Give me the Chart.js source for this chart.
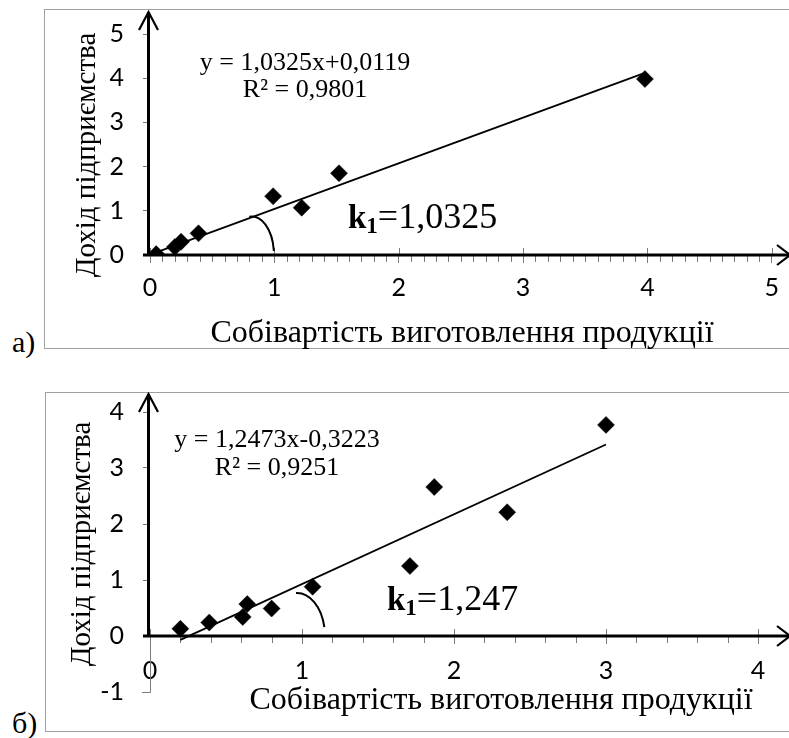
<!DOCTYPE html>
<html lang="uk">
<head>
<meta charset="utf-8">
<title>Дохід підприємства / Собівартість</title>
<script src="https://cdn.jsdelivr.net/npm/chart.js@4.4.1/dist/chart.umd.min.js"></script>
<style>
    html, body { margin: 0; padding: 0; background: #fff; }
    body { width: 789px; height: 738px; overflow: hidden; position: relative; font-family: "Liberation Serif", serif; }
    .frame { position: absolute; border: 1.5px solid #a0a0a0; box-sizing: border-box; }
    .tag { position: absolute; left: 12px; font-size: 30px; line-height: 30px; }
    canvas { position: absolute; left: 0; }
</style>
</head>
<body>
<div class="frame" style="left:44px; top:9px; width:800px; height:340px;"></div>
<div class="frame" style="left:45px; top:392px; width:800px; height:340px;"></div>
<div class="tag" style="top:327px;">а)</div>
<div class="tag" style="top:708px;">б)</div>
<canvas id="chartA" width="789" height="362" style="top:0;"></canvas>
<canvas id="chartB" width="789" height="368" style="top:370px;"></canvas>

<script>
// ---- data ----
// а)
const costA = [0.05, 0.2, 0.25, 0.39, 0.99, 1.22, 1.52, 3.98];
const incomeA = [0.02, 0.18, 0.30, 0.49, 1.33, 1.07, 1.85, 3.98];
const trendAX = [0.05, 3.98];
const trendAY = [0.06, 4.12];
const xTicksA = [0, 1, 2, 3, 4, 5];
const yTicksA = [0, 1, 2, 3, 4, 5];

// б)
const costB = [0.2, 0.39, 0.61, 0.64, 0.80, 1.07, 1.71, 1.87, 2.35, 3.0];
const incomeB = [0.13, 0.24, 0.34, 0.57, 0.49, 0.88, 1.25, 2.66, 2.21, 3.77];
const trendBX = [0.2, 3.0];
const trendBY = [-0.07, 3.42];
const xTicksB = [0, 1, 2, 3, 4];
const yTicksB = [-1, 0, 1, 2, 3, 4];

const xTitle = 'Собівартість виготовлення продукції';
const yTitle = 'Дохід підприємства';
const eqA = ['y = 1,0325x+0,0119', 'R² = 0,9801'];
const eqB = ['y = 1,2473x-0,3223', 'R² = 0,9251'];
const kA = '=1,0325';
const kB = '=1,247';

const SERIF = '"Liberation Serif", "Times New Roman", serif';
const TICK_FONT = { family: 'Lato, "Open Sans", sans-serif', size: 25 };

// ---- decorations: black arrow axes, minor ticks, arc, texts ----
const decor = {
    id: 'decor',
    beforeDatasetsDraw(chart, args, o) {
        const ctx = chart.ctx;
        const xs = chart.scales.x, ys = chart.scales.y;
        const y0 = ys.getPixelForValue(0);
        const x0 = xs.getPixelForValue(0);
        ctx.save();

        // minor ticks (below) and upper half of major ticks
        ctx.strokeStyle = '#7a7a7a';
        ctx.lineWidth = 1;
        ctx.beginPath();
        const n = Math.round(xs.max / o.minor);
        for (let i = 0; i <= n; i++) {
            const px = Math.round(xs.getPixelForValue(i * o.minor)) + 0.5;
            if (i % Math.round(1 / o.minor) === 0) {
                ctx.moveTo(px, y0 - 7); ctx.lineTo(px, y0);
            } else {
                ctx.moveTo(px, y0); ctx.lineTo(px, y0 + 7);
            }
        }
        // grey part of value axis below zero
        if (ys.min < 0) {
            const yb = ys.getPixelForValue(ys.min);
            ctx.moveTo(x0 + 0.5, y0); ctx.lineTo(x0 + 0.5, yb + 0.5);
            ctx.moveTo(x0 - 8, yb + 0.5); ctx.lineTo(x0 + 0.5, yb + 0.5);
        }
        ctx.stroke();

        // black axes with open arrow heads
        const ax = x0 - 1.5;
        ctx.strokeStyle = '#000';
        ctx.lineWidth = 3;
        ctx.beginPath();
        ctx.moveTo(x0 - 7, y0); ctx.lineTo(o.xTip, y0);
        ctx.moveTo(ax, y0 + 1.5); ctx.lineTo(ax, o.yTip);
        ctx.stroke();
        ctx.lineWidth = 2.2;
        ctx.beginPath();
        ctx.moveTo(o.xTip - 13, y0 - 10); ctx.lineTo(o.xTip, y0); ctx.lineTo(o.xTip - 13, y0 + 10);
        ctx.moveTo(ax - 9.5, o.yTip + 18); ctx.lineTo(ax, o.yTip); ctx.lineTo(ax + 9.5, o.yTip + 18);
        ctx.stroke();
        ctx.restore();
    },
    afterDatasetsDraw(chart, args, o) {
        const ctx = chart.ctx;
        const xs = chart.scales.x, ys = chart.scales.y;
        ctx.save();

        // angle arc
        const cx = xs.getPixelForValue(o.arc.x);
        const cy = ys.getPixelForValue(0);
        const rx = xs.getPixelForValue(o.arc.x + o.arc.rx) - cx;
        const ry = cy - ys.getPixelForValue(o.arc.ry);
        ctx.strokeStyle = '#000';
        ctx.lineWidth = 2;
        ctx.beginPath();
        ctx.ellipse(cx, cy, rx, ry, 0, o.arc.from * Math.PI / 180, o.arc.to * Math.PI / 180);
        ctx.stroke();

        ctx.fillStyle = '#000';
        ctx.textBaseline = 'alphabetic';

        // trend equation
        ctx.textAlign = 'center';
        ctx.font = '26px ' + SERIF;
        ctx.fillText(o.eq[0], o.eqX, o.eqY[0]);
        ctx.fillText(o.eq[1], o.eqX, o.eqY[1]);

        // k1 = ...
        ctx.textAlign = 'left';
        let kx = o.k.x;
        ctx.font = 'bold 33px ' + SERIF;
        ctx.fillText('k', kx, o.k.y);
        kx += ctx.measureText('k').width;
        ctx.font = 'bold 23px ' + SERIF;
        ctx.fillText('1', kx, o.k.y + 5);
        kx += ctx.measureText('1').width;
        ctx.font = '36px ' + SERIF;
        ctx.fillText(o.k.text, kx, o.k.y);

        // axis titles
        ctx.textAlign = 'center';
        ctx.font = '32px ' + SERIF;
        ctx.fillText(xTitle, o.xt.x, o.xt.y);
        ctx.translate(o.yt.x, o.yt.y);
        ctx.rotate(-Math.PI / 2);
        ctx.textBaseline = 'middle';
        ctx.font = '29px ' + SERIF;
        ctx.fillText(yTitle, 0, 0);
        ctx.restore();
    }
};

function makeChart(id, cfg) {
    const points = cfg.xs.map((x, i) => ({ x: x, y: cfg.ys[i] }));
    const trend = cfg.tx.map((x, i) => ({ x: x, y: cfg.ty[i] }));
    return new Chart(document.getElementById(id), {
        type: 'scatter',
        data: {
            datasets: [{
                data: points,
                pointStyle: 'rectRot',
                pointRadius: 8.5,
                backgroundColor: '#000',
                borderColor: '#000',
                borderWidth: 0.5
            }, {
                type: 'line',
                data: trend,
                showLine: true,
                pointRadius: 0,
                borderColor: '#000',
                borderWidth: 1.8,
                fill: false
            }]
        },
        options: {
            responsive: false,
            animation: false,
            events: [],
            layout: { padding: cfg.pad },
            plugins: {
                legend: { display: false },
                tooltip: { enabled: false },
                decor: cfg.decor
            },
            scales: {
                x: {
                    type: 'linear',
                    position: { y: 0 },
                    min: cfg.xTicks[0],
                    max: cfg.xTicks[cfg.xTicks.length - 1],
                    afterBuildTicks: s => { s.ticks = cfg.xTicks.map(v => ({ value: v })); },
                    ticks: { font: TICK_FONT, color: '#000', padding: cfg.xPad, maxRotation: 0 },
                    grid: { drawOnChartArea: false, tickLength: 8, tickColor: '#7a7a7a' },
                    border: { display: false }
                },
                y: {
                    type: 'linear',
                    min: cfg.yTicks[0],
                    max: cfg.yTicks[cfg.yTicks.length - 1],
                    afterBuildTicks: s => { s.ticks = cfg.yTicks.map(v => ({ value: v })); },
                    afterFit: s => { s.width = 150; },
                    ticks: { font: TICK_FONT, color: '#000', padding: 19 },
                    grid: { drawOnChartArea: false, tickLength: 7, tickColor: '#7a7a7a' },
                    border: { display: false }
                }
            }
        },
        plugins: [decor]
    });
}

document.addEventListener('DOMContentLoaded', () => {
    // а)
    makeChart('chartA', {
        xs: costA, ys: incomeA, tx: trendAX, ty: trendAY,
        xTicks: xTicksA, yTicks: yTicksA,
        pad: { left: 0, top: 25, right: 16, bottom: 107 },
        xPad: 10,
        decor: {
            minor: 0.1, xTip: 790, yTip: 12,
            arc: { x: 0.82, rx: 0.177, ry: 0.87, from: -97, to: -6 },
            eq: eqA, eqX: 305, eqY: [70, 97],
            k: { x: 348, y: 228, text: kA },
            xt: { x: 462, y: 342 },
            yt: { x: 87, y: 155 }
        }
    });

    // б)
    makeChart('chartB', {
        xs: costB, ys: incomeB, tx: trendBX, ty: trendBY,
        xTicks: xTicksB, yTicks: yTicksB,
        pad: { left: 0, top: 42, right: 31, bottom: 46 },
        xPad: 12,
        decor: {
            minor: 0.2, xTip: 790, yTip: 24,
            arc: { x: 0.967, rx: 0.184, ry: 0.77, from: -92, to: -12 },
            eq: eqB, eqX: 277, eqY: [77, 105],
            k: { x: 387, y: 240, text: kB },
            xt: { x: 501, y: 339 },
            yt: { x: 82, y: 174 }
        }
    });
});
</script>
</body>
</html>
